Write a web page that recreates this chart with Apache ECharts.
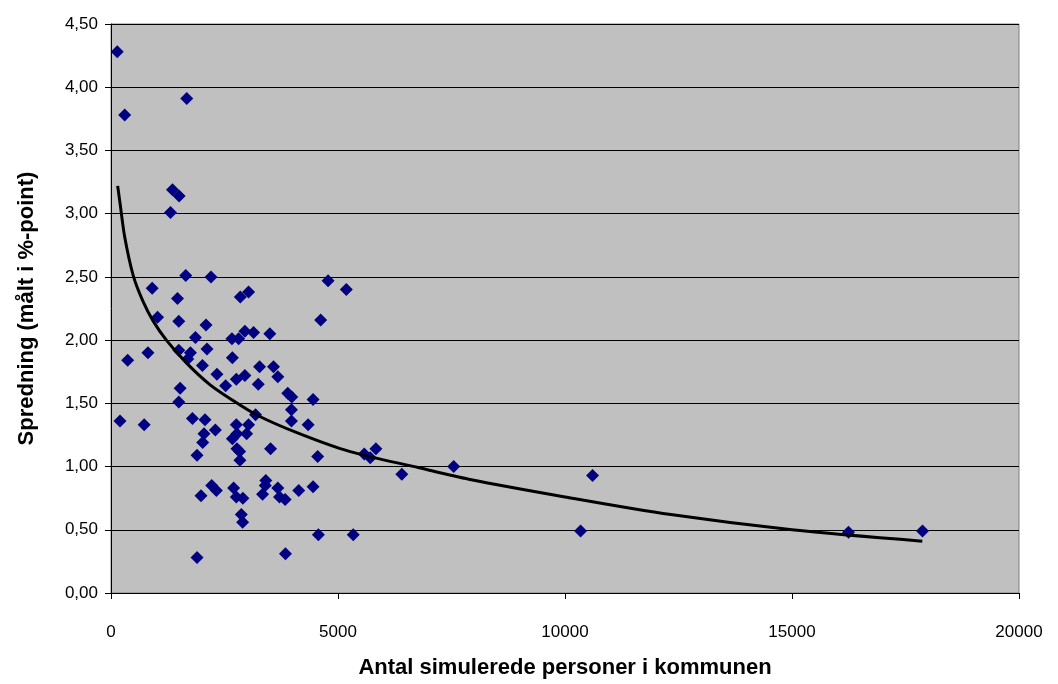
<!DOCTYPE html>
<html>
<head>
<meta charset="utf-8">
<script src="https://cdn.jsdelivr.net/npm/echarts@6/dist/echarts.min.js"></script>
<style>
html,body{margin:0;padding:0;background:#fff;}
#chart{width:1058px;height:684px;}
</style>
</head>
<body>
<div id="chart"></div>
<script>
// Scatter data: number of simulated persons (x) and spread in %-points (y)
var personsX = [138,301,1669,1355,1500,1311,1647,2203,907,1465,2848,3030,4781,5183,1026,1493,2093,4618,1860,2664,2811,2949,3140,3498,367,813,1493,1750,1691,2115,2673,2014,2334,3272,3579,3674,2760,2949,3243,2525,1522,3893,3981,4451,1493,3975,3975,4342,3184,198,731,1794,2071,2299,2760,3030,2987,2774,2673,2774,2833,2840,2049,2020,1895,3514,4552,1983,2218,2321,2701,2760,2905,2870,2899,1895,3410,3397,3338,3674,3711,3836,4135,4451,3843,4568,5336,5578,5710,5835,6406,7548,10607,10343,16244,17875];
var spreadY = [4.28,3.78,3.91,3.19,3.14,3.01,2.51,2.50,2.41,2.33,2.34,2.38,2.47,2.40,2.18,2.15,2.12,2.16,2.02,2.01,2.01,2.07,2.06,2.05,1.84,1.90,1.92,1.90,1.85,1.93,1.86,1.80,1.73,1.79,1.79,1.71,1.69,1.72,1.65,1.64,1.62,1.58,1.55,1.53,1.51,1.45,1.36,1.33,1.41,1.36,1.33,1.38,1.37,1.29,1.33,1.33,1.26,1.26,1.22,1.14,1.12,1.05,1.26,1.19,1.09,1.14,1.08,0.77,0.85,0.81,0.83,0.76,0.75,0.62,0.56,0.28,0.89,0.85,0.78,0.83,0.76,0.74,0.81,0.84,0.31,0.46,0.46,1.10,1.07,1.14,0.94,1.00,0.93,0.49,0.48,0.49];
// Trend line (logarithmic) values
var trendX = [147,200,300,490,700,930,1220,1660,2170,2610,3200,4150,5250,6790,7880,10000,12330,15000,17870];
var trendY = [3.22,3.08,2.82,2.51,2.31,2.15,2.00,1.82,1.65,1.54,1.41,1.26,1.12,0.99,0.90,0.76,0.62,0.50,0.41];
var xTicks = ['0','5000','10000','15000','20000'];
var yTicks = ['0,00','0,50','1,00','1,50','2,00','2,50','3,00','3,50','4,00','4,50'];
var xTitle = 'Antal simulerede personer i kommunen';
var yTitle = 'Spredning (målt i %-point)';

var scatterData = personsX.map(function(x,i){return [x, spreadY[i]];});
var trendData = trendX.map(function(x,i){return [x, trendY[i]];});

var chart = echarts.init(document.getElementById('chart'), null, {renderer:'canvas'});
chart.setOption({
  animation:false,
  backgroundColor:'#ffffff',
  textStyle:{fontFamily:'Liberation Sans, Arial, sans-serif'},
  grid:{left:111,right:39,top:24,bottom:91,show:true,backgroundColor:'#C0C0C0',borderColor:'#808080',borderWidth:1},
  xAxis:{
    type:'value',min:0,max:20000,interval:5000,
    name:xTitle,nameLocation:'middle',nameGap:64,
    nameTextStyle:{fontSize:22,fontWeight:'bold',color:'#000'},
    axisLine:{show:true,onZero:false,lineStyle:{color:'#000',width:1}},
    axisTick:{show:true,inside:false,length:6,lineStyle:{color:'#000'}},
    axisLabel:{fontSize:17,color:'#000',margin:31,formatter:function(v){var i=Math.round(v/5000);return xTicks[i]!==undefined?xTicks[i]:String(v);}},
    splitLine:{show:false}
  },
  yAxis:{
    type:'value',min:0,max:4.5,interval:0.5,
    name:yTitle,nameLocation:'middle',nameGap:73,nameRotate:90,
    nameTextStyle:{fontSize:22,fontWeight:'bold',color:'#000'},
    axisLine:{show:true,lineStyle:{color:'#000',width:1}},
    axisTick:{show:true,inside:false,length:6,lineStyle:{color:'#000'}},
    axisLabel:{fontSize:17,color:'#000',margin:13,formatter:function(v){var i=Math.round(v/0.5);return yTicks[i]!==undefined?yTicks[i]:String(v);}},
    splitLine:{show:true,lineStyle:{color:'#000',width:1}}
  },
  series:[
    {type:'scatter',data:scatterData,symbol:'diamond',symbolSize:13,itemStyle:{color:'#000080',opacity:1},z:2},
    {type:'line',data:trendData,smooth:0.3,showSymbol:false,symbol:'none',lineStyle:{color:'#000',width:3},z:3}
  ]
});
</script>
</body>
</html>
